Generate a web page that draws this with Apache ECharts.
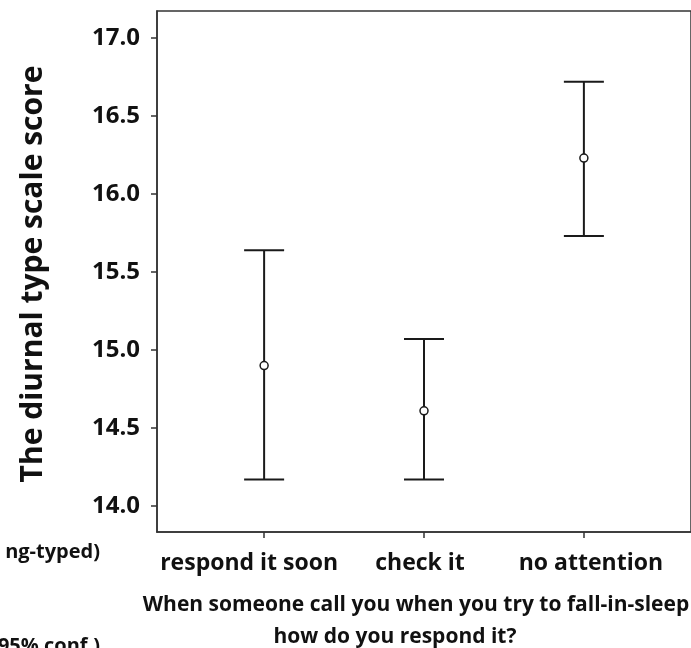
<!DOCTYPE html>
<html><head><meta charset="utf-8">
<script src="https://cdn.jsdelivr.net/npm/echarts@6/dist/echarts.min.js"></script>
<style>html,body{margin:0;padding:0;background:#fff}#c{width:691px;height:648px}</style>
</head><body><div id="c"></div>
<script>
// Data
const categories = ['respond it soon', 'check it', 'no attention'];
const categoryPos = [1, 2, 3];
const means = [14.90, 14.61, 16.23];
const lower = [14.17, 14.17, 15.73];
const upper = [15.64, 15.07, 16.72];
const yTicks = [14.0, 14.5, 15.0, 15.5, 16.0, 16.5, 17.0];
const yTitle = 'The diurnal type scale score';
const xTitle1 = 'When someone call you when you try to fall-in-sleep';
const xTitle2 = 'how do you respond it?';
const frag1 = 'ng-typed)';
const frag2 = '95% conf.)';

const FONT = '"Open Sans", sans-serif';
const chart = echarts.init(document.getElementById('c'), null, {renderer: 'canvas'});

const barData = categoryPos.map((p, i) => [p, lower[i], upper[i]]);
const meanData = categoryPos.map((p, i) => [p, means[i]]);
const labelRich = ['c0', 'c1', 'c2'];
const labelStyle = {fontFamily: FONT, fontWeight: 'bold', fontSize: 23, color: '#111'};

chart.setOption({
  animation: false,
  backgroundColor: '#fff',
  grid: {left: 157, top: 11, width: 538, height: 521, show: true,
         borderColor: '#333', borderWidth: 1.5, backgroundColor: 'transparent'},
  xAxis: {
    type: 'value', min: 0.33, max: 3.67,
    axisLine: {show: true, lineStyle: {color: '#333', width: 1.5}},
    axisTick: {show: true, length: 6, customValues: categoryPos, lineStyle: {color: '#333', width: 1.5}},
    axisLabel: {customValues: categoryPos,
                formatter: v => { const i = Math.round(v) - 1; return categories[i] ? '{' + labelRich[i] + '|' + categories[i] + '}' : ''; },
                fontFamily: FONT, fontWeight: 'bold', fontSize: 23, color: '#111', margin: 20,
                rich: {
                  c0: Object.assign({padding: [0, 30, 0, 0]}, labelStyle),
                  c1: Object.assign({padding: [0, 8, 0, 0]}, labelStyle),
                  c2: Object.assign({padding: [0, 0, 0, 14]}, labelStyle)
                }},
    splitLine: {show: false}
  },
  yAxis: {
    type: 'value', min: 13.833, max: 17.173,
    axisLine: {show: true, lineStyle: {color: '#333', width: 1.5}},
    axisTick: {show: true, length: 6, customValues: yTicks, lineStyle: {color: '#333', width: 1.5}},
    axisLabel: {customValues: yTicks, formatter: v => Number(v).toFixed(1),
                fontFamily: FONT, fontWeight: 'bold', fontSize: 24, color: '#111', margin: 17},
    splitLine: {show: false}
  },
  series: [
    {
      type: 'custom',
      data: barData,
      encode: {x: 0, y: [1, 2]},
      renderItem: function (params, api) {
        const x = api.value(0);
        const lo = api.coord([x, api.value(1)]);
        const hi = api.coord([x, api.value(2)]);
        const hw = 20;
        const st = {stroke: '#1a1a1a', lineWidth: 2};
        return {type: 'group', children: [
          {type: 'line', shape: {x1: lo[0], y1: lo[1], x2: hi[0], y2: hi[1]}, style: st},
          {type: 'line', shape: {x1: lo[0] - hw, y1: lo[1], x2: lo[0] + hw, y2: lo[1]}, style: st},
          {type: 'line', shape: {x1: hi[0] - hw, y1: hi[1], x2: hi[0] + hw, y2: hi[1]}, style: st}
        ]};
      },
      z: 2
    },
    {
      type: 'scatter',
      data: meanData,
      symbol: 'circle',
      symbolSize: 8,
      itemStyle: {color: '#fff', borderColor: '#1a1a1a', borderWidth: 1.5, opacity: 1},
      z: 3
    }
  ],
  graphic: [
    {type: 'text', x: 33, y: 274, rotation: Math.PI / 2,
     style: {text: yTitle, font: 'bold 30px ' + FONT, fill: '#111', align: 'center', verticalAlign: 'middle'}},
    {type: 'text', x: 416, y: 605,
     style: {text: xTitle1, font: 'bold 21px ' + FONT, fill: '#111', align: 'center', verticalAlign: 'middle'}},
    {type: 'text', x: 395, y: 637,
     style: {text: xTitle2, font: 'bold 21px ' + FONT, fill: '#111', align: 'center', verticalAlign: 'middle'}},
    {type: 'text', x: 100, y: 552,
     style: {text: frag1, font: 'bold 20px ' + FONT, fill: '#111', align: 'right', verticalAlign: 'middle'}},
    {type: 'text', x: 100, y: 646,
     style: {text: frag2, font: 'bold 20px ' + FONT, fill: '#111', align: 'right', verticalAlign: 'middle'}}
  ]
});
</script>
</body></html>
